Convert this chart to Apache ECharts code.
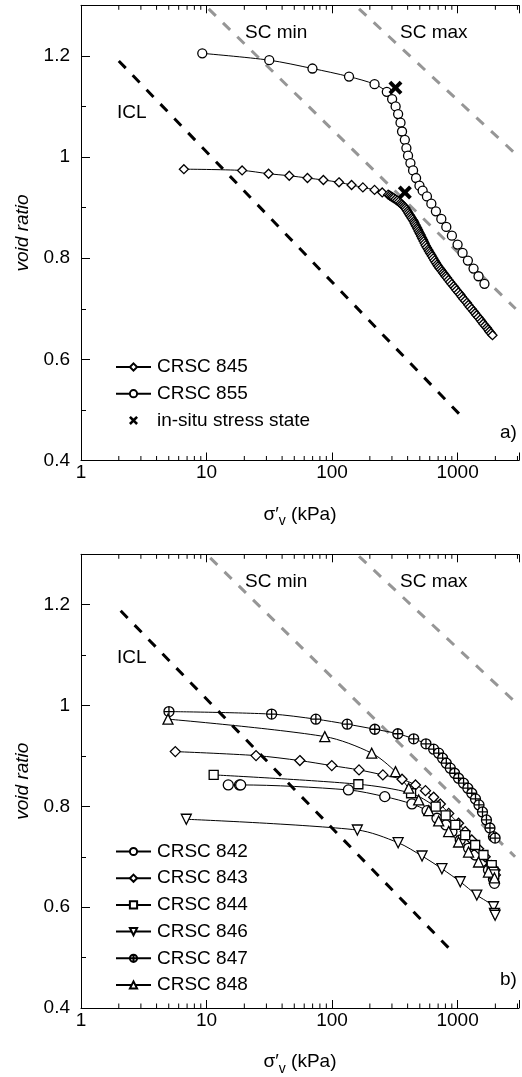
<!DOCTYPE html>
<html>
<head>
<meta charset="utf-8">
<script src="https://cdn.jsdelivr.net/npm/echarts@6/dist/echarts.min.js"></script>
<style>
html,body{margin:0;padding:0;background:#fff;}
#chart{width:522px;height:1077px;}
</style>
</head>
<body>
<div id="chart"></div>
<script>
// ---- axis ranges / ticks ----
const X_MIN = 1, X_MAX = 3085;
const Y_MIN = 0.4, Y_MAX = 1.3;
const X_LABELS = [1, 10, 100, 1000];
const MINOR_X = [2,3,4,5,6,7,8,9,20,30,40,50,60,70,80,90,200,300,400,500,600,700,800,900,2000,3000];

// ---- panel a data ----
const ICL_A = [[2, 1.19], [1050, 0.49]];
const SCMIN_A = [[10.4, 1.293], [2900, 0.70]];
const SCMAX_A = [[164, 1.293], [3085, 1.0]];
const CRSC845 = [[6.6,0.976],[19.2,0.9735],[31.2,0.967],[45.6,0.963],[63.7,0.9585],[85.3,0.9546],[113.6,0.950],[143,0.9447],[176,0.940],[218,0.935],[251,0.930],[280,0.9256],
 [288,0.924],[295,0.9222],[302,0.9205],[310,0.919],[320,0.9165],[330,0.914],[340,0.9115],[351,0.909],[359,0.9066],[367,0.9042],[375,0.9018],[384,0.8993],[391,0.896],[399,0.8926],[406,0.8893],[414,0.886],[422,0.8828],[430,0.8796],[439,0.8762],[448,0.8729],[454,0.8696],[461,0.8663],[468,0.863],[476,0.8598],[483,0.8565],[490,0.8531],[498,0.8498],[506,0.8466],[513,0.8433],[521,0.8401],[529,0.8368],[537,0.8334],[547,0.8294],[557,0.8253],[569,0.8212],[582,0.817],[592,0.8138],[603,0.8105],[614,0.8072],[626,0.8038],[640,0.7997],[655,0.7956],[670,0.7915],[685,0.7874],[700,0.7841],[716,0.7808],[733,0.7775],[751,0.7741],[768,0.7708],[785,0.7676],[803,0.7643],[822,0.7611],[846,0.757],[871,0.7528],[899,0.7487],[929,0.7445],[955,0.7405],[982,0.7364],[1015,0.7322],[1050,0.7281],[1079,0.724],[1109,0.7199],[1147,0.7158],[1186,0.7117],[1219,0.7076],[1253,0.7034],[1296,0.6993],[1340,0.6952],[1378,0.6912],[1416,0.6871],[1464,0.683],[1514,0.6788],[1556,0.6746],[1600,0.6705],[1653,0.6664],[1708,0.6624],[1749,0.6588],[1791,0.6551],[1843,0.6515],[1897,0.6478]];
const CRSC855 = [[9.25,1.205],[31.6,1.1915],[69.8,1.175],[136.5,1.159],[218,1.144],[273,1.129],[301,1.1145],[321,1.100],[336,1.085],[351,1.068],[361,1.0505],[380,1.034],[391,1.0178],[403,1.0026],[421,0.988],[442,0.9735],[467,0.9585],[497,0.9433],[527,0.9335],[570,0.9222],[618,0.9078],[672,0.8926],[742,0.8776],[813,0.8618],[901,0.8446],[1000,0.8269],[1096,0.8105],[1208,0.7953],[1340,0.7795],[1468,0.7643],[1637,0.7493]];
const INSITU = [[320,1.137],[380,0.930]];

// ---- panel b data ----
const ICL_B = [[2.07, 1.188], [850, 0.519]];
const SCMIN_B = [[10.7, 1.293], [2870, 0.70]];
const SCMAX_B = [[164, 1.296], [3085, 1.0]];
const CRSC842 = [[14.9,0.8425],[18.3,0.8425],[18.7,0.8425],[135,0.8326],[263,0.8193],[433,0.8048],[571,0.7915],[685,0.7764],[807,0.7631],[901,0.7498],[1050,0.7333],[1223,0.7168],[1381,0.7035],[1559,0.6902],[1762,0.6737],[1931,0.6552],[1966,0.6473]];
const CRSC843 = [[5.64,0.9086],[24.8,0.9007],[55.4,0.8908],[99.5,0.8808],[164,0.8723],[254,0.8624],[361,0.8538],[462,0.8425],[555,0.8312],[645,0.8181],[729,0.8048],[850,0.786],[1018,0.7664],[1150,0.75],[1298,0.7333],[1470,0.716],[1659,0.700],[1850,0.683],[1990,0.6737],[2000,0.664]];
const CRSC844 = [[11.4,0.8624],[162,0.8439],[426,0.826],[669,0.7994],[803,0.7823],[959,0.7631],[1150,0.743],[1381,0.7233],[1608,0.7035],[1871,0.6836],[1931,0.6703],[1960,0.665]];
const CRSC846 = [[6.9,0.7744],[159,0.7531],[336,0.7279],[521,0.7015],[750,0.6763],[1050,0.6504],[1422,0.624],[1931,0.6008],[1966,0.5877],[1990,0.584]];
const CRSC847 = [[5.02,0.988],[33,0.983],[74.3,0.973],[132,0.963],[219,0.953],[334,0.944],[447,0.934],[560,0.924],[645,0.9134],[707,0.9055],[760,0.8955],[813,0.8856],[875,0.8757],[947,0.8657],[1018,0.8558],[1116,0.8459],[1207,0.836],[1298,0.826],[1389,0.8147],[1481,0.8028],[1579,0.7889],[1698,0.773],[1811,0.7571],[1931,0.7398],[1990,0.737]];
const CRSC848 = [[4.93,0.973],[87.5,0.9384],[207,0.9055],[320,0.8689],[408,0.836],[490,0.8127],[589,0.7915],[707,0.771],[849,0.750],[1018,0.7293],[1223,0.7094],[1468,0.6896],[1762,0.6697],[1966,0.658]];

// ---- styling ----
const FONT = "'Liberation Sans', Arial, sans-serif";
const FS = 19;
const GRAY = '#969696';
const CIRCLE_PLUS = 'path://M10,0 A10,10 0 1 1 -10,0 A10,10 0 1 1 10,0 Z M-10,0 L10,0 M0,-10 L0,10';
const CROSS = 'path://M-6,-3.6 L-3.6,-6 L0,-2.4 L3.6,-6 L6,-3.6 L2.4,0 L6,3.6 L3.6,6 L0,2.4 L-3.6,6 L-6,3.6 L-2.4,0 Z';

const chart = echarts.init(document.getElementById('chart'), null, {renderer: 'canvas'});

function isDecade(v) { const l = Math.log10(v); return Math.abs(l - Math.round(l)) < 1e-6 && v <= 1000; }

function xAxes(grid) {
  return [
    {
      type: 'log', gridIndex: grid, position: 'bottom', min: X_MIN, max: X_MAX, logBase: 10,
      axisLine: {show: true, lineStyle: {color: '#000', width: 1}},
      axisTick: {show: true, inside: true, length: 8, lineStyle: {color: '#000'}},
      axisLabel: {show: true, margin: 3, fontSize: FS, fontFamily: FONT, color: '#000',
        formatter: v => isDecade(v) ? String(Math.round(v)) : ''},
      splitLine: {show: false},
      name: '{s|σ′}{sub|v}{s| (kPa)}', nameLocation: 'middle', nameGap: 40,
      nameTextStyle: {rich: {
        s: {fontSize: FS, fontFamily: FONT, color: '#000', lineHeight: 28, verticalAlign: 'middle'},
        sub: {fontSize: 14, fontFamily: FONT, color: '#000', lineHeight: 14, verticalAlign: 'bottom'}
      }}
    },
    {
      type: 'log', gridIndex: grid, position: 'top', min: X_MIN, max: X_MAX, logBase: 10,
      axisLine: {show: true, lineStyle: {color: '#000', width: 1}},
      axisTick: {show: true, inside: true, length: 8, lineStyle: {color: '#000'}},
      axisLabel: {show: false}, splitLine: {show: false}
    }
  ];
}
function yAxes(grid) {
  return [
    {
      type: 'value', gridIndex: grid, position: 'left', min: Y_MIN, max: Y_MAX, interval: 0.2,
      axisLine: {show: true, lineStyle: {color: '#000', width: 1}},
      axisTick: {show: true, inside: true, length: 9, lineStyle: {color: '#000'}},
      axisLabel: {show: true, margin: 11, fontSize: FS, fontFamily: FONT, color: '#000',
        formatter: v => v > 1.25 ? '' : String(Math.round(v * 10) / 10)},
      splitLine: {show: false},
      name: 'void ratio', nameLocation: 'middle', nameGap: 40, nameRotate: 90,
      nameTextStyle: {fontSize: FS, fontFamily: FONT, fontStyle: 'italic', color: '#000'}
    },
    {
      type: 'value', gridIndex: grid, position: 'left', min: Y_MIN, max: Y_MAX, interval: 0.1,
      axisLine: {show: false},
      axisTick: {show: true, inside: true, length: 5, lineStyle: {color: '#000'}},
      axisLabel: {show: false}, splitLine: {show: false}
    }
  ];
}

function dashed(name, data, xi, yi, color) {
  return {name, type: 'line', data, xAxisIndex: xi, yAxisIndex: yi, symbol: 'none', silent: true,
    lineStyle: {color, width: 3, type: [10, 10], cap: 'butt'}, z: 1};
}
function curve(name, data, xi, yi, symbol, size, extra) {
  return Object.assign({name, type: 'line', data, xAxisIndex: xi, yAxisIndex: yi,
    symbol, symbolSize: size, showAllSymbol: true, smooth: 0.3,
    lineStyle: {color: '#000', width: 1},
    itemStyle: {color: '#fff', borderColor: '#000', borderWidth: 1.3}, z: 3}, extra || {});
}
function minorTicks(xi, yi) {
  return {
    type: 'custom', xAxisIndex: xi, yAxisIndex: yi, silent: true, clip: false, z: 5,
    data: MINOR_X.map(v => [v, Y_MIN]), encode: {x: 0, y: 1},
    renderItem: (params, api) => {
      const x = api.value(0);
      const b = api.coord([x, Y_MIN]);
      const t = api.coord([x, Y_MAX]);
      return {type: 'group', children: [
        {type: 'line', shape: {x1: b[0], y1: b[1], x2: b[0], y2: b[1] - 4.5}, style: {stroke: '#000', lineWidth: 1}},
        {type: 'line', shape: {x1: t[0], y1: t[1], x2: t[0], y2: t[1] + 4.5}, style: {stroke: '#000', lineWidth: 1}}
      ]};
    }
  };
}

const legendBase = {
  orient: 'vertical', itemWidth: 35, itemHeight: 9, itemGap: 6.7,
  textStyle: {fontSize: FS, fontFamily: FONT, color: '#000', lineHeight: 20, padding: [0, 0, 0, 1]},
  selectedMode: false
};

function txt(text, x, y, align) {
  return {type: 'text', x, y, silent: true,
    style: {text, fontSize: FS, fontFamily: FONT, fill: '#000', verticalAlign: 'middle', align: align || 'left'}};
}

const option = {
  animation: false,
  backgroundColor: '#fff',
  grid: [
    {left: 81, top: 5.3, width: 440, height: 455.2},
    {left: 81, top: 554.3, width: 440, height: 453.8}
  ],
  xAxis: [...xAxes(0), ...xAxes(1)],
  yAxis: [...yAxes(0), ...yAxes(1)],
  legend: [
    Object.assign({}, legendBase, {left: 110, top: 352, data: [
      {name: 'CRSC 845'}, {name: 'CRSC 855'},
      {name: 'in-situ stress state', icon: CROSS, itemStyle: {color: '#000', opacity: 1}}
    ]}),
    Object.assign({}, legendBase, {left: 110, top: 836.5, data: ['CRSC 842', 'CRSC 843', 'CRSC 844', 'CRSC 846', 'CRSC 847', 'CRSC 848']})
  ],
  series: [
    minorTicks(0, 0), minorTicks(2, 2),
    dashed('ICL a', ICL_A, 0, 0, '#000'),
    dashed('SC min a', SCMIN_A, 0, 0, GRAY),
    dashed('SC max a', SCMAX_A, 0, 0, GRAY),
    curve('CRSC 845', CRSC845, 0, 0, 'diamond', 9),
    curve('CRSC 855', CRSC855, 0, 0, 'circle', 9),
    {name: 'in-situ stress state', type: 'scatter', data: INSITU, xAxisIndex: 0, yAxisIndex: 0,
      symbol: CROSS, symbolSize: 14, z: 10,
      itemStyle: {color: '#000', opacity: 1, borderWidth: 0}},
    dashed('ICL b', ICL_B, 2, 2, '#000'),
    dashed('SC min b', SCMIN_B, 2, 2, GRAY),
    dashed('SC max b', SCMAX_B, 2, 2, GRAY),
    curve('CRSC 842', CRSC842, 2, 2, 'circle', 10),
    curve('CRSC 843', CRSC843, 2, 2, 'diamond', 10),
    curve('CRSC 844', CRSC844, 2, 2, 'rect', 9),
    curve('CRSC 846', CRSC846, 2, 2, 'triangle', 10, {symbolRotate: 180}),
    curve('CRSC 847', CRSC847, 2, 2, CIRCLE_PLUS, 10),
    curve('CRSC 848', CRSC848, 2, 2, 'triangle', 10)
  ],
  graphic: [
    txt('SC min', 245, 33), txt('SC max', 400, 33), txt('ICL', 117, 113), txt('a)', 500, 433),
    txt('SC min', 245, 582), txt('SC max', 400, 582), txt('ICL', 117, 658), txt('b)', 500, 980)
  ]
};
chart.setOption(option);
</script>
</body>
</html>
